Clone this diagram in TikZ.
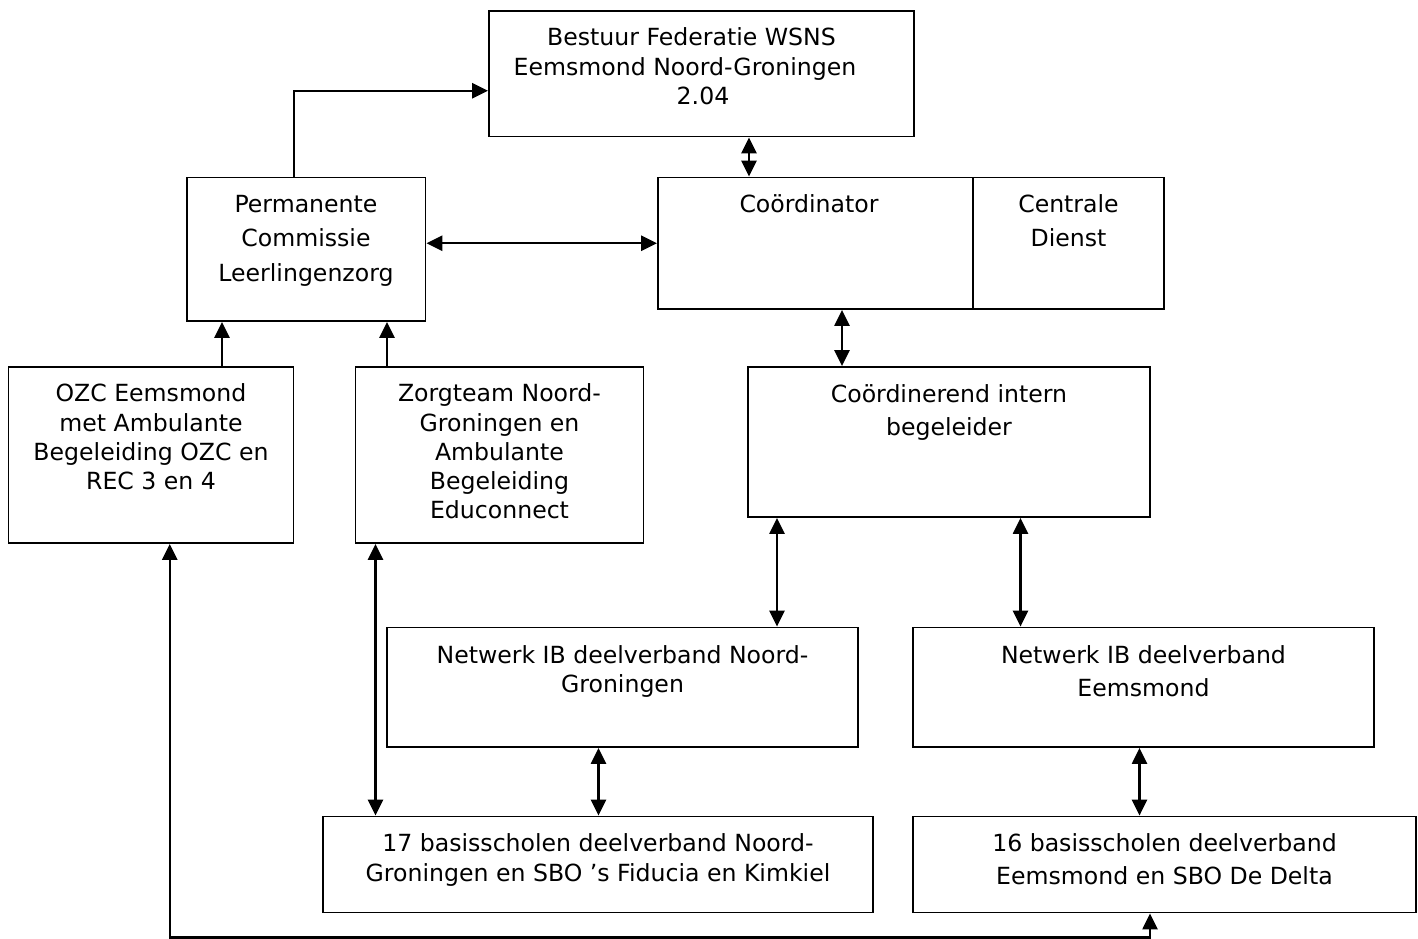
\documentclass[tikz,border=0pt]{standalone}
\usepackage{fontspec}
\setmainfont{DejaVu Sans}
\usetikzlibrary{arrows.meta}
\newcommand\mybox[5]{\node[box, minimum width={#4-#2}, minimum height={#5-#3}] (#1) at ({(#2+#4)/2},{(#3+#5)/2}) {};}
\newcommand\tl[4]{\node[txt] (#1) at (#2,#3) {#4};}
\begin{document}
\begin{tikzpicture}[x=1pt,y=-1pt,
  box/.style={draw, line width=1.8pt, inner sep=0pt, fill=none},
  txt/.style={font=\fontsize{23.6}{28}\selectfont, inner sep=0pt, anchor=base},
  tipA/.tip={Triangle[length=16pt,width=15pt]},
  arr/.style={line width=2.4pt, -tipA},
  dbl/.style={line width=2.4pt, tipA-tipA}]
\useasboundingbox (0,0) rectangle (1418,939);
% boxes
\mybox{bst}{489}{11}{914}{136.5}
\mybox{perm}{187}{177.5}{425.5}{321}
\mybox{coord}{658}{177.5}{973}{309}
\mybox{cd}{973}{177.5}{1164}{309}
\mybox{ozc}{8.5}{367}{293.5}{543}
\mybox{zorg}{355.5}{367}{643.5}{543}
\mybox{cib}{748}{367}{1150}{517}
\mybox{nng}{387}{627.5}{858}{747}
\mybox{ne}{913}{627.5}{1374}{747}
\mybox{bs}{323}{816.5}{873}{912.5}
\mybox{bt}{913}{816.5}{1416}{912.5}
% texts
\tl{t1}{691.5}{46}{Bestuur Federatie WSNS}
\tl{t2}{685}{75.3}{Eemsmond Noord-Groningen}
\tl{t3}{703}{104.3}{2.04}
\tl{t4}{306}{212}{Permanente}
\tl{t5}{306}{246.5}{Commissie}
\tl{t6}{306}{281}{Leerlingenzorg}
\tl{t7}{809}{212.7}{Coördinator}
\tl{t8}{1068.5}{212.7}{Centrale}
\tl{t9}{1068.5}{246}{Dienst}
\tl{t10}{151}{401.7}{OZC Eemsmond}
\tl{t11}{151}{431}{met Ambulante}
\tl{t12}{151}{460}{Begeleiding OZC en}
\tl{t13}{151}{489}{REC 3 en 4}
\tl{t14}{499.5}{401.7}{Zorgteam Noord-}
\tl{t15}{499.5}{431}{Groningen en}
\tl{t16}{499.5}{460}{Ambulante}
\tl{t17}{499.5}{489}{Begeleiding}
\tl{t18}{499.5}{518.3}{Educonnect}
\tl{t19}{949}{402}{Coördinerend intern}
\tl{t20}{949}{435}{begeleider}
\tl{t21}{622.5}{663}{Netwerk IB deelverband Noord-}
\tl{t22}{622.5}{692}{Groningen}
\tl{t23}{1143.5}{663.5}{Netwerk IB deelverband}
\tl{t24}{1143.5}{696}{Eemsmond}
\tl{t25}{598}{851.7}{17 basisscholen deelverband Noord-}
\tl{t26}{598}{881}{Groningen en SBO ’s Fiducia en Kimkiel}
\tl{t27}{1164.5}{851}{16 basisscholen deelverband}
\tl{t28}{1164.5}{884.4}{Eemsmond en SBO De Delta}
% connectors
\draw[arr] ([xshift=-12pt]perm.north) |- ([yshift=-17pt]bst.west);
\draw[dbl] ([xshift=47.5pt]bst.south) -- ([xshift=47.5pt]bst.south |- coord.north);
\draw[dbl] (perm.east |- coord.west) -- (coord.west);
\draw[arr] ([xshift=71pt]ozc.north) -- ([xshift=71pt]ozc.north |- perm.south);
\draw[arr] ([xshift=-112.5pt]zorg.north) -- ([xshift=-112.5pt]zorg.north |- perm.south);
\draw[dbl] ([xshift=26.5pt]coord.south) -- ([xshift=26.5pt]coord.south |- cib.north);
\draw[dbl] ([xshift=-172pt]cib.south) -- ([xshift=-172pt]cib.south |- nng.north);
\draw[dbl] ([xshift=71.5pt]cib.south) -- ([xshift=71.5pt]cib.south |- ne.north);
\draw[dbl] ([xshift=-24pt]nng.south) -- ([xshift=-24pt]nng.south |- bs.north);
\draw[dbl] ([xshift=-4pt]ne.south) -- ([xshift=-4pt]ne.south |- bt.north);
\draw[dbl] ([xshift=-124pt]zorg.south) -- ([xshift=-124pt]zorg.south |- bs.north);
\coordinate (bot) at (0,937.5);
\coordinate (oa) at ([xshift=18.75pt]ozc.south);
\coordinate (ob) at ([xshift=-14.5pt]bt.south);
\draw[dbl] (oa) -- (oa |- bot) -| (ob);
\end{tikzpicture}
\end{document}
